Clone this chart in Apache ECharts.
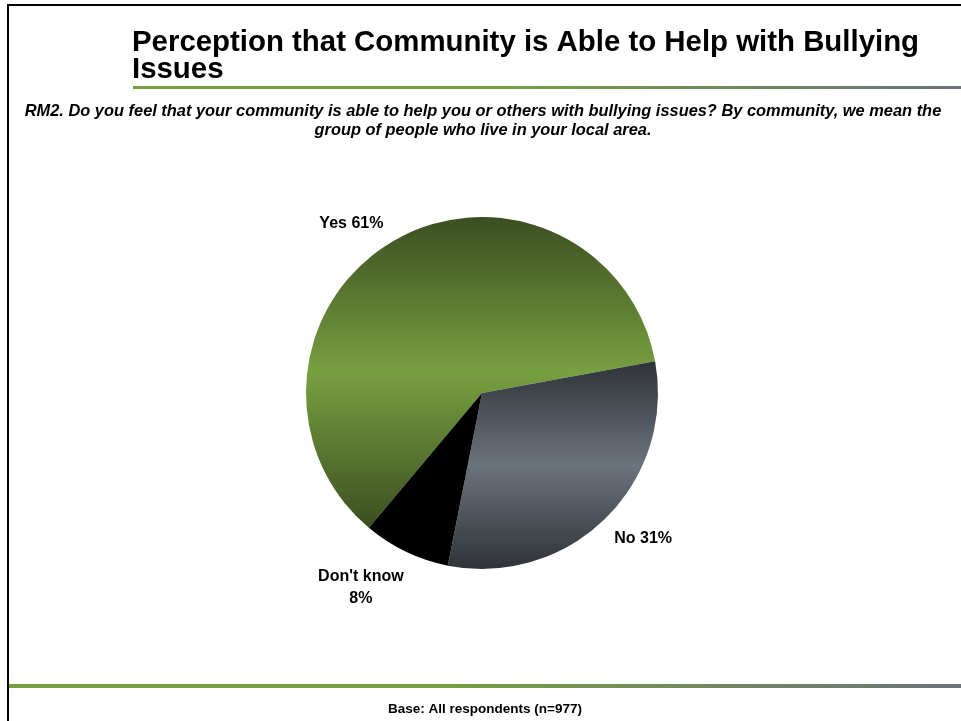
<!DOCTYPE html>
<html>
<head>
<meta charset="utf-8">
<title>Perception that Community is Able to Help with Bullying Issues</title>
<script src="https://cdn.jsdelivr.net/npm/echarts@6/dist/echarts.min.js"></script>
<style>
  html, body { margin: 0; padding: 0; background: #ffffff; }
  #chart { width: 961px; height: 721px; }
</style>
</head>
<body>
<div id="chart"></div>
<script>
// Survey answers and their shares (per cent of respondents)
const categories = ['Yes', 'No', "Don't know"];
const shares = [61, 31, 8];

const titleText = 'Perception that Community is Able to Help with Bullying\nIssues';
const questionText = 'RM2. Do you feel that your community is able to help you or others with bullying issues? By community, we mean the\ngroup of people who live in your local area.';
const baseText = 'Base: All respondents (n=977)';

const FONT = 'Liberation Sans, Arial, sans-serif';

// Vertical dark-light-dark gradient used to shade each slice
function shade(edge, mid) {
  return {
    type: 'linear', x: 0, y: 0, x2: 0, y2: 1,
    colorStops: [
      { offset: 0, color: edge },
      { offset: 0.5, color: mid },
      { offset: 1, color: edge }
    ]
  };
}
const sliceColors = [
  shade('#3a4f20', '#77a040'),
  shade('#2f3338', '#6b737c'),
  '#000000'
];

// Label placement per slice: distance beyond the rim and gap to the text
const labelReach = [20, 28, 40];
const labelGap = [0, -11, -15];

// Horizontal green-to-grey rule
function rule(x, y, w, h) {
  return {
    type: 'rect',
    shape: { x: x, y: y, width: w, height: h },
    style: {
      fill: {
        type: 'linear', x: 0, y: 0, x2: 1, y2: 0,
        colorStops: [
          { offset: 0, color: '#77a040' },
          { offset: 0.45, color: '#76a040' },
          { offset: 1, color: '#6b737c' }
        ]
      }
    },
    silent: true
  };
}

const chart = echarts.init(document.getElementById('chart'), null, { renderer: 'canvas' });

const option = {
  backgroundColor: '#ffffff',
  animation: false,
  title: [
    {
      text: titleText,
      left: 132, top: 29, padding: 0,
      textStyle: {
        fontFamily: FONT, fontWeight: 'bold', fontSize: 29.4, lineHeight: 27, color: '#000000'
      }
    },
    {
      text: questionText,
      left: 483, top: 102, padding: 0, textAlign: 'center',
      textStyle: {
        fontFamily: FONT, fontWeight: 'bold', fontStyle: 'italic',
        fontSize: 16.4, lineHeight: 19, color: '#000000'
      }
    },
    {
      text: baseText,
      left: 485, top: 702, padding: 0, textAlign: 'center',
      textStyle: {
        fontFamily: FONT, fontWeight: 'bold', fontSize: 13.5, color: '#000000'
      }
    }
  ],
  graphic: [
    // slide frame: top and left edges
    { type: 'line', shape: { x1: 8, y1: 5, x2: 961, y2: 5 }, style: { stroke: '#000000', lineWidth: 2 }, silent: true },
    { type: 'line', shape: { x1: 8, y1: 4, x2: 8, y2: 721 }, style: { stroke: '#000000', lineWidth: 2 }, silent: true },
    rule(133, 86, 828, 3),
    rule(9, 684, 952, 4)
  ],
  series: [
    {
      type: 'pie',
      center: [482, 393],
      radius: 176,
      startAngle: 230,
      clockwise: true,
      avoidLabelOverlap: false,
      data: categories.map((name, i) => ({
        name: name,
        value: shares[i],
        itemStyle: { color: sliceColors[i] },
        label: { distanceToLabelLine: labelGap[i] },
        labelLine: { length: labelReach[i], length2: 0 }
      })),
      label: {
        show: true,
        position: 'outside',
        fontFamily: FONT,
        fontWeight: 'bold',
        fontSize: 16,
        lineHeight: 22,
        color: '#000000',
        formatter: p => p.name.length > 4
          ? '{c|' + p.name + '}\n{c|' + p.value + '%}'
          : p.name + ' ' + p.value + '%',
        rich: {
          c: { fontFamily: FONT, fontWeight: 'bold', fontSize: 16, lineHeight: 22, color: '#000000', align: 'center' }
        }
      },
      labelLine: { show: false },
      emphasis: { disabled: true }
    }
  ]
};

chart.setOption(option);
</script>
</body>
</html>
